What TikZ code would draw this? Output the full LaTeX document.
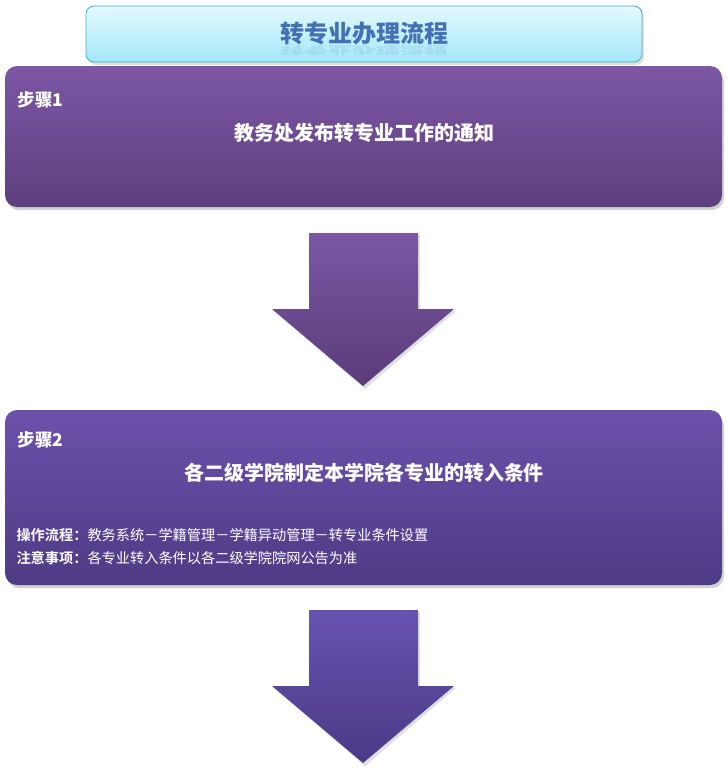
\documentclass[tikz,border=0pt]{standalone}
\usepackage{fontspec}
\setmainfont{Liberation Serif}
\newfontfamily\cjk{Noto Sans CJK SC}
\newfontfamily\cjkb{Noto Sans CJK SC}[BoldFont={Noto Sans CJK SC Bold}]
\usetikzlibrary{shadows}
\definecolor{titleblue}{RGB}{70,112,180}
\begin{document}
\begin{tikzpicture}[x=1pt,y=-1pt,
  titlebox/.style={draw={rgb,255:red,75;green,172;blue,198}, line width=0.8pt, rounded corners=8pt, top color={rgb,255:red,226;green,249;blue,254}, bottom color={rgb,255:red,164;green,232;blue,250}},
  stepbox/.style={rounded corners=12pt},
  shadowbox/.style={rounded corners=12pt, fill=black, opacity=0.18},
  steplabel/.style={text=white, font=\cjk\fontsize{17.5}{20}\selectfont\bfseries, anchor=west},
  maintext/.style={text=white, font=\cjk\fontsize{20}{23}\selectfont\bfseries},
  smalltext/.style={text=white, font=\cjk\fontsize{14.2}{16}\selectfont, anchor=west}
]
\useasboundingbox (0,0) rectangle (727,772);
% title
\fill[black,opacity=0.12,rounded corners=8pt] (88,9) rectangle (644,65);
\node[titlebox, minimum width=556pt, minimum height=56pt, inner sep=0pt] (title) at (364,34) {};
\node[text=titleblue, font=\cjk\fontsize{24}{26}\selectfont\bfseries] (titletext) at (364,33) {转专业办理流程};
\node[text=titleblue, opacity=0.12, yscale=-0.45, font=\cjk\fontsize{24}{26}\selectfont\bfseries] (titlerefl) at (364,51) {转专业办理流程};
% box 1
\fill[shadowbox] (7,70) rectangle (724,210);
\shade[stepbox, top color={rgb,255:red,124;green,87;blue,164}, bottom color={rgb,255:red,94;green,63;blue,126}] (5,66) rectangle (722,207);
\node[steplabel] (s1) at (14,100) {步骤1};
\node[maintext] (t1) at (364,133) {教务处发布转专业工作的通知};
% arrow 1
\fill[black,opacity=0.12] (311,235) -- (420,235) -- (420,311) -- (456,311) -- (365,389) -- (274,311) -- (311,311) -- cycle;
\shade[top color={rgb,255:red,124;green,87;blue,164}, bottom color={rgb,255:red,90;green,60;blue,122}] (309,233) -- (418,233) -- (418,309) -- (454,309) -- (363,386) -- (272,309) -- (309,309) -- cycle;
% box 2
\fill[shadowbox] (7,414) rectangle (724,588);
\shade[stepbox, top color={rgb,255:red,108;green,81;blue,172}, bottom color={rgb,255:red,78;green,59;blue,133}] (5,410) rectangle (722,585);
\node[steplabel] (s2) at (14,440) {步骤2};
\node[maintext] (t2) at (364,473) {各二级学院制定本学院各专业的转入条件};
\node[smalltext] (op) at (13,535) {{\cjkb\bfseries 操作流程：}教务系统－学籍管理－学籍异动管理－转专业条件设置};
\node[smalltext] (note) at (13,558) {{\cjkb\bfseries 注意事项：}各专业转入条件以各二级学院院网公告为准};
% arrow 2
\fill[black,opacity=0.12] (311,612) -- (420,612) -- (420,688) -- (456,688) -- (365,766) -- (274,688) -- (311,688) -- cycle;
\shade[top color={rgb,255:red,104;green,82;blue,176}, bottom color={rgb,255:red,74;green,58;blue,133}] (309,610) -- (418,610) -- (418,686) -- (454,686) -- (363,763) -- (272,686) -- (309,686) -- cycle;
\end{tikzpicture}
\end{document}
